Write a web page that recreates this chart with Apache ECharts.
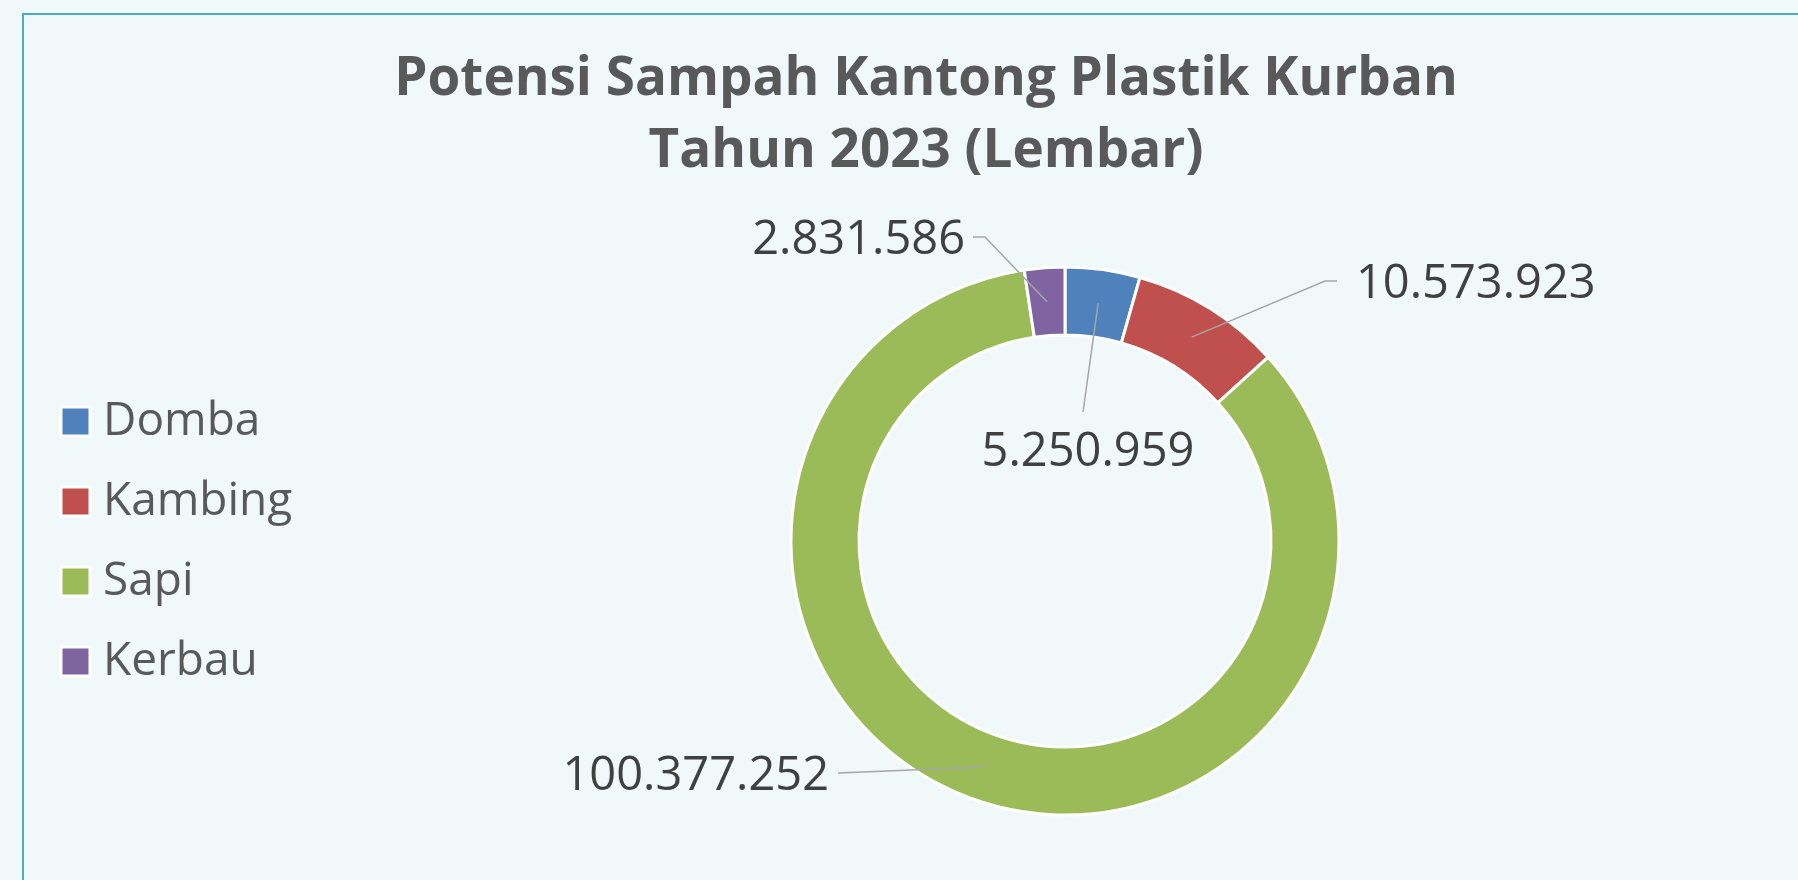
<!DOCTYPE html>
<html>
<head>
<meta charset="utf-8">
<title>Potensi Sampah Kantong Plastik Kurban</title>
<script src="https://cdn.jsdelivr.net/npm/echarts@6/dist/echarts.min.js"></script>
<style>
  html, body { margin: 0; padding: 0; background: #f0f8fa; }
  #chart { width: 1798px; height: 880px; }
</style>
</head>
<body>
<div id="chart"></div>
<script>
// data
const categories = ['Domba', 'Kambing', 'Sapi', 'Kerbau']
const values = [5250959, 10573923, 100377252, 2831586]
const colors = ['#4f81bd', '#c0504d', '#9bbb59', '#8064a2']

// ring geometry (px)
const cx = 1065
const cy = 541
const rIn = 206
const rOut = 274
const rMid = (rIn + rOut) / 2

// where each leader line goes and where its label sits
const guides = [
    { bend: [1083, 412], end: [1083, 412], text: [1088, 453], align: 'center' },
    { bend: [1325, 281], end: [1337, 281], text: [1356, 285], align: 'left' },
    { bend: [838, 773], end: [838, 773], text: [829, 777], align: 'right' },
    { bend: [985, 237], end: [973, 237], text: [965, 241], align: 'right' }
]

const total = values.reduce((a, b) => a + b, 0)
const midAngles = []
let acc = 0
values.forEach(v => {
    midAngles.push(((acc + v / 2) / total) * Math.PI * 2)
    acc += v
})

const fmt = v => String(v).replace(/\B(?=(\d{3})+(?!\d))/g, '.')

// leader lines start in the middle of the ring, on each slice's mid angle
const leaderLines = guides.map((g, i) => {
    const a = midAngles[i]
    const start = [cx + rMid * Math.sin(a), cy - rMid * Math.cos(a)]
    return {
        type: 'polyline',
        z: 100,
        silent: true,
        shape: { points: [start, g.bend, g.end] },
        style: { fill: null, stroke: '#a6a6a6', lineWidth: 1.5 }
    }
})

const chart = echarts.init(document.getElementById('chart'))

const option = {
    backgroundColor: '#f0f8fa',
    animation: false,
    title: {
        text: 'Potensi Sampah Kantong Plastik Kurban\nTahun 2023 (Lembar)',
        left: 926,
        top: 44,
        padding: 0,
        textAlign: 'center',
        textStyle: {
            fontFamily: 'Open Sans',
            fontWeight: 'bold',
            fontSize: 53,
            lineHeight: 72,
            color: '#595959'
        }
    },
    graphic: [
        {
            type: 'rect',
            z: -10,
            silent: true,
            shape: { x: 23, y: 14, width: 2000, height: 2000 },
            style: { fill: null, stroke: '#4bacc6', lineWidth: 2 }
        }
    ].concat(leaderLines),
    legend: {
        orient: 'vertical',
        left: 59.5,
        top: 398.5,
        padding: 0,
        itemGap: 34,
        itemWidth: 29,
        itemHeight: 29,
        icon: 'rect',
        itemStyle: { borderColor: '#ffffff', borderWidth: 3 },
        data: categories,
        textStyle: {
            fontFamily: 'Open Sans',
            fontSize: 46,
            color: '#595959',
            padding: [0, 0, 0, 8]
        }
    },
    series: [
        {
            type: 'pie',
            center: [cx, cy],
            radius: [rIn, rOut],
            startAngle: 90,
            clockwise: true,
            avoidLabelOverlap: false,
            itemStyle: { borderColor: '#ffffff', borderWidth: 3 },
            label: {
                show: true,
                position: 'outside',
                fontFamily: 'Open Sans',
                fontSize: 47,
                color: '#404040',
                formatter: p => fmt(p.value)
            },
            labelLine: { show: false },
            labelLayout: params => {
                const g = guides[params.dataIndex]
                return {
                    x: g.text[0],
                    y: g.text[1],
                    align: g.align,
                    verticalAlign: 'middle'
                }
            },
            data: categories.map((name, i) => ({
                name: name,
                value: values[i],
                itemStyle: { color: colors[i] }
            }))
        }
    ]
}

chart.setOption(option)
</script>
</body>
</html>
